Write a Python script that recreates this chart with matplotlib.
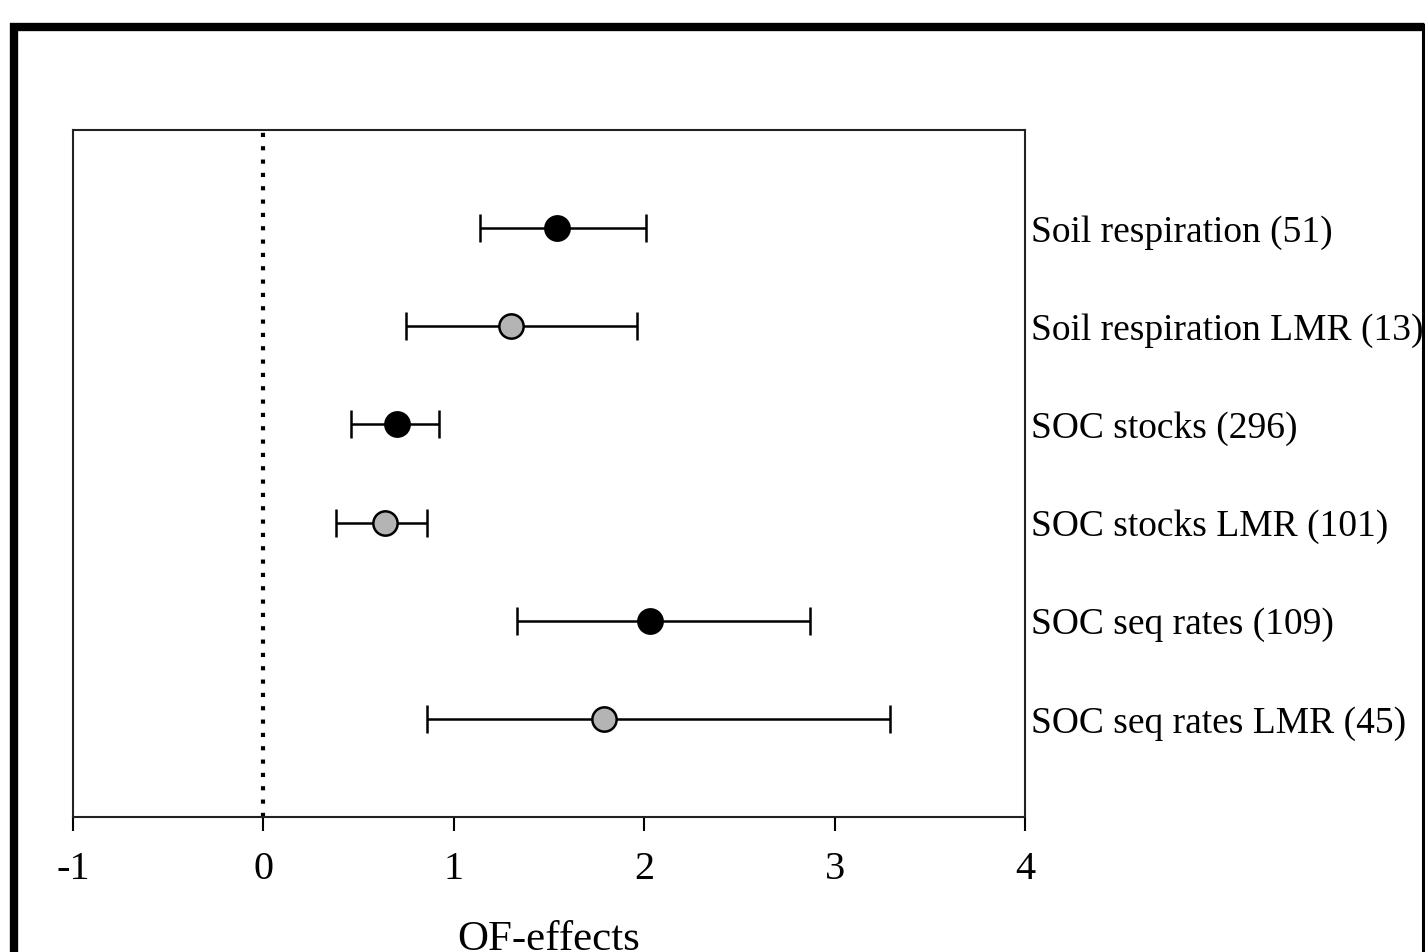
import numpy as np
import matplotlib.pyplot as plt
from matplotlib.lines import Line2D

# dane
labels = ['Soil respiration (51)', 'Soil respiration LMR (13)', 'SOC stocks (296)',
          'SOC stocks LMR (101)', 'SOC seq rates (109)', 'SOC seq rates LMR (45)']
effect = [1.54, 1.30, 0.70, 0.64, 2.03, 1.79]
low = [1.14, 0.75, 0.46, 0.38, 1.33, 0.86]
high = [2.01, 1.96, 0.92, 0.86, 2.87, 3.29]
colors = ['black', '#b4b4b4', 'black', '#b4b4b4', 'black', '#b4b4b4']
xticks = [-1, 0, 1, 2, 3, 4]

plt.rcParams['font.family'] = ['Liberation Serif', 'DejaVu Serif']

fig = plt.figure(figsize=(14.27, 9.53), dpi=100)
ax = fig.add_axes([0.0512, 0.1417, 0.6671, 0.7208])

ypos = np.arange(len(labels), 0, -1)
for x, lo, hi, c, y in zip(effect, low, high, colors, ypos):
    ax.errorbar(x, y, xerr=[[x - lo], [hi - x]], fmt='none', ecolor='black',
                elinewidth=1.8, capsize=10, capthick=1.8, zorder=2)
    ax.plot(x, y, 'o', color=c, markeredgecolor='black', markeredgewidth=1.8,
            markersize=17.5, zorder=3)

ax.axvline(0, color='black', linestyle=(0, (1, 2.2)), linewidth=3, zorder=1)
ax.set_xlim(-1, 4)
ax.set_ylim(0, 7)
ax.set_xticks(xticks)
ax.set_xticklabels([str(t) for t in xticks])
ax.set_yticks([])
ax.tick_params(axis='x', direction='out', length=10, width=1.5, labelsize=29, pad=14)
for s in ax.spines.values():
    s.set_linewidth(1.5)
    s.set_color('#222222')

for lab, y in zip(labels, ypos):
    ax.text(1.006, y - 0.035, lab, transform=ax.get_yaxis_transform(), ha='left',
            va='center', fontsize=27)

ax.set_xlabel('OF-effects', fontsize=31, labelpad=23)

# ramka wokol rysunku
fig.add_artist(Line2D([13.5 / 1427, 13.5 / 1427], [0, 1 - 24 / 953], color='black',
                      linewidth=6, transform=fig.transFigure, solid_capstyle='butt'))
fig.add_artist(Line2D([10 / 1427, 1424 / 1427], [1 - 28 / 953, 1 - 28 / 953], color='black',
                      linewidth=6, transform=fig.transFigure, solid_capstyle='butt'))
fig.add_artist(Line2D([1422.5 / 1427, 1422.5 / 1427], [0, 1 - 24 / 953], color='black',
                      linewidth=2.2, transform=fig.transFigure, solid_capstyle='butt'))

fig.savefig('out.png', dpi=100)
